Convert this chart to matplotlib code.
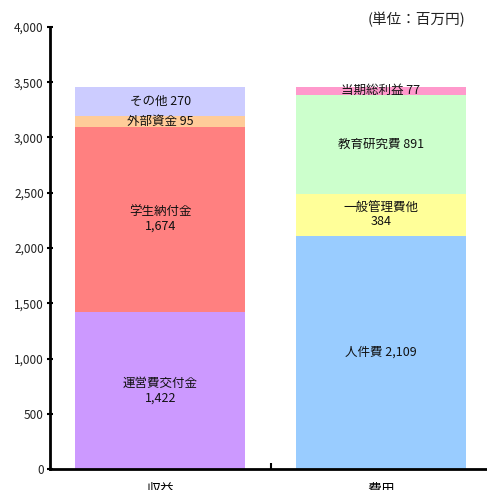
import matplotlib.pyplot as plt
from matplotlib.ticker import FuncFormatter, FixedLocator

plt.rcParams['font.family'] = ['Noto Sans CJK JP', 'DejaVu Sans']

# Data
categories = ['収益', '費用']
revenue_labels = ['運営費交付金', '学生納付金', '外部資金', 'その他']
revenue_values = [1422, 1674, 95, 270]
expense_labels = ['人件費', '一般管理費他', '教育研究費', '当期総利益']
expense_values = [2109, 384, 891, 77]

revenue_colors = ['#CC99FF', '#FF8080', '#FFCC99', '#CCCCFF']
expense_colors = ['#99CCFF', '#FFFF99', '#CCFFCC', '#FF99CC']
# label on two lines or one line
revenue_split = [True, True, False, False]
expense_split = [False, True, False, False]

fig = plt.figure(figsize=(4.87, 4.9), dpi=100)
ax = fig.add_axes([50 / 487, 21 / 490, 441 / 487, 442 / 490])

width = 0.77


def draw_stack(x, labels, values, colors, split):
    bottom = 0
    for lab, val, col, sp in zip(labels, values, colors, split):
        ax.bar(x, val, width=width, bottom=bottom, color=col, edgecolor='none')
        txt = f'{lab}\n{val:,}' if sp else f'{lab} {val:,}'
        ax.text(x, bottom + val / 2, txt, ha='center', va='center',
                fontsize=9, linespacing=1.15, color='#111111')
        bottom += val


draw_stack(0, revenue_labels, revenue_values, revenue_colors, revenue_split)
draw_stack(1, expense_labels, expense_values, expense_colors, expense_split)

ax.set_xlim(-0.5, 1.5)
ax.set_ylim(0, 4000)
ax.set_yticks(range(0, 4001, 500))
ax.yaxis.set_major_formatter(FuncFormatter(lambda v, p: f'{int(v):,}'))
ax.set_xticks([0, 1])
ax.set_xticklabels(categories, fontsize=10)
ax.xaxis.set_minor_locator(FixedLocator([0.5]))
ax.tick_params(axis='x', which='major', length=0, pad=10)
ax.tick_params(axis='x', which='minor', direction='in', length=4, width=1.5)
ax.tick_params(axis='y', direction='inout', length=5, width=1.5, labelsize=8.5,
               pad=2, labelcolor='#222222')

for s in ['top', 'right']:
    ax.spines[s].set_visible(False)
ax.spines['left'].set_linewidth(2)
ax.spines['bottom'].set_linewidth(2)

fig.text(465 / 487, 1 - 20 / 490, '(単位：百万円)', ha='right', va='center',
         fontsize=10.5, color='#222222')

fig.savefig('out.png', dpi=100)
